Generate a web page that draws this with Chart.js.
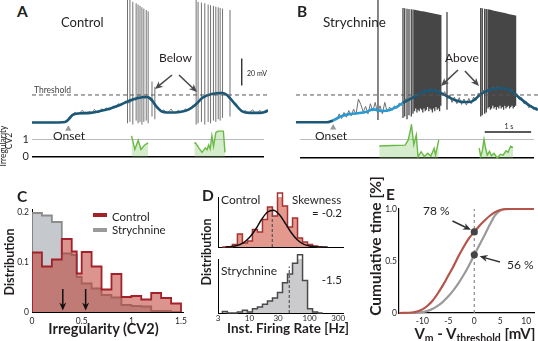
<!DOCTYPE html>
<html><head><meta charset="utf-8">
<script src="https://cdn.jsdelivr.net/npm/chart.js@4.4.1/dist/chart.umd.min.js"></script>
<style>
html,body{margin:0;padding:0;background:#fff;}
#fig{position:relative;width:538px;height:341px;overflow:hidden;font-family:Lato,'Open Sans',sans-serif;color:#231f20;}
#fig canvas{position:absolute;}
.t{position:absolute;white-space:nowrap;line-height:1;}
.r{position:absolute;white-space:nowrap;line-height:1;transform:translate(-50%,-50%) rotate(-90deg);}
.sw{position:absolute;height:4px;width:14px;}
sub{font-size:0.7em;vertical-align:-0.3em;line-height:0;}
</style></head><body><div id="fig"></div>
<script>
// ================= DATA =================
// ---- Panel A : Control membrane potential (time s, mV) ----
const threshold = -50;
const aBlueT = [0, 0.375, 0.69, 0.75, 0.85, 0.96, 1.21, 1.42, 1.63, 1.83, 2.04, 2.21, 2.38, 2.48, 2.58, 2.69, 2.83, 3.08, 3.25, 3.40, 3.56, 3.75, 3.96, 4.06, 4.23, 4.38, 4.54, 4.75, 4.85, 4.92];
const aBlueV = [-70.4, -70.4, -70, -68.5, -64.8, -63.7, -63.3, -61.9, -60, -57.4, -54.1, -52.2, -51.5, -53, -58.1, -61.9, -63, -62.6, -61.1, -57.4, -51.9, -49.3, -48.5, -50, -56.7, -62.2, -63.3, -63.3, -62.6, -61.5];
const rawDt = 0.05;
const aRawV = [-70.6,-70.2,-70.5,-70.3,-70.6,-70.2,-70.5,-70.3,-70.6,-70.1,-70.4,-70.2,-70.5,-69.9,-69.6,-68.0,-65.5,
 -64.2,-62.8,-64.5,-63.0,-61.2,-64.0,-63.6,-62.1,-63.9,-60.6,-62.8,-62.9,-60.2,-61.9,-59.4,-61.3,-60.5,-58.0,-59.6,-56.4,-58.0,-56.9,-54.4,-55.9,
 -55.5,-52.0,-54.0,-51.0,-53.0,-50.5,-52.5,-50.8,-53.5,-55.0,-57.0,-59.5,-61.0,
 -62.6,-61.0,-63.5,-62.4,-60.4,-63.3,-62.9,-61.2,-63.0,-61.9,-60.3,-61.4,
 -60.2,-58.0,-57.0,-55.0,-54.0,-51.5,-52.0,-49.5,-50.5,-48.5,-50.0,-47.8,-49.5,-47.8,-49.6,-49.0,-52.5,-53.5,-56.5,-57.5,-60.0,-61.0,
 -62.6,-61.5,-63.9,-62.2,-61.0,-63.6,-62.9,-61.4,-63.7,-61.9,-61.0];
const aSpikeT = [1.99, 2.04, 2.10, 2.17, 2.21, 2.25, 2.29, 2.33, 2.38, 2.42, 2.50, 2.56, 3.42, 3.46, 3.53, 3.60, 3.67, 3.72, 3.78, 3.83, 3.88, 3.92, 3.97, 4.125];
const aSpikePeak = [25, 22, 19, 18, 17, 16, 15, 14, 13, 12, -40, -44, 22, 19, 18.5, 18, 17, 16.5, 16, 15.5, 15, 14.5, 14, 13];
const aSpikeTrough = [-71, -70, -72, -69, -71, -70, -72, -70, -69, -71, -66, -68, -72, -71, -70, -72, -70, -71, -69, -70, -68, -69, -67, -66];
const aCvT1 = [2.11, 2.18, 2.25, 2.31, 2.39, 2.46];
const aCvV1 = [1.2, 0.42, 0.95, 0.42, 0.68, 0.80];
const aCvT2 = [3.44, 3.465, 3.535, 3.604, 3.673, 3.708, 3.744, 3.777, 3.8125, 3.848, 3.896, 3.9375, 4.056, 4.09];
const aCvV2 = [0.78, 0.80, 0.51, 0.25, 0.51, 0.40, 0.68, 0.45, 1.21, 0.60, 1.38, 1.47, 1.47, 0.25];
const aOnsetT = 0.77;
const aScaleBar = {t: 4.37, from: -43, to: -23};           // 20 mV
const aArrows = [[2.917, -35.2, 2.5625, -45.6], [3.0625, -35.2, 3.4375, -47.8]];

// ---- Panel B : Strychnine ----
const bBlueT = [0, 0.646, 0.771, 0.917, 1.083, 1.265, 1.473, 1.604, 1.8125, 1.958, 2.098, 2.229, 2.4375, 2.542, 2.646, 2.75, 2.89, 3.02, 3.167, 3.306, 3.479, 3.646, 3.75, 3.854, 4.0, 4.25, 4.458, 4.583, 4.729, 4.875, 5.0, 5.04];
const bBlueV = [-70.2, -70.2, -68.9, -66.1, -64.4, -63.6, -62.4, -60.7, -61.9, -61.1, -58.9, -55.9, -51.9, -50, -47.8, -46.8, -46.8, -48.5, -51.3, -53.7, -55.2, -55, -52.6, -49.3, -46.7, -45, -46.3, -50, -54.2, -58.1, -60.4, -61.1];
const bRawV = [-70.4,-70.0,-70.3,-70.1,-70.4,-70.0,-70.3,-70.1,-70.5,-70.0,-70.3,-70.1,-70.4,-70.0,-69.6,-69.0,-67.5,-68.5,-64.0,-67.5,
 -63.0,-66.5,-61.5,-65.5,-60.5,-64.5,-53.0,-57.0,-62.5,-58.5,-64.0,-56.5,-62.0,-55.5,-63.5,-58.0,-64.0,-55.5,-62.5,-59.0,
 -61.5,-58.0,-60.0,-56.0,-57.5,-55.0,-52.5,-53.0,-51.0,-51.5,-49.5,-50.5,-48.0,-48.5,-46.5,-47.5,-46.0,-47.5,-46.0,-47.5,
 -47.0,-50.5,-47.5,-53.5,-50.0,-55.5,-51.5,-56.5,-52.0,-57.0,-53.0,-57.5,-52.5,-56.5,-51.5,-54.0,-48.5,-50.5,-46.5,-48.0,
 -45.5,-47.0,-44.5,-46.0,-44.0,-45.5,-44.5,-46.0,-45.0,-47.0,-46.0,-49.5,-49.0,-53.5,-52.0,-56.5,-55.0,-59.5,-57.5,-61.0,-59.0,-61.5];
const bSpikeT = [1.708,
 2.229, 2.265, 2.313, 2.354, 2.402, 2.4375, 2.469, 2.494, 2.519, 2.542, 2.567, 2.592, 2.617, 2.642, 2.667, 2.692, 2.717, 2.742, 2.767, 2.792, 2.817, 2.842, 2.867, 2.892, 2.917, 2.942, 2.967, 2.992, 3.017,
 3.146,
 3.848, 3.881, 3.931, 3.965, 4.0, 4.025, 4.05, 4.075, 4.1, 4.125, 4.15, 4.175, 4.2, 4.225, 4.25, 4.275, 4.3, 4.325, 4.35, 4.375, 4.4, 4.425, 4.45, 4.475, 4.5, 4.525, 4.55, 4.575];
const bSpikePeak = [30,
 14.5, 14.3, 14.0, 13.8, 13.6, 13.4, 13.2, 13.0, 12.8, 12.6, 12.5, 12.3, 12.1, 12.0, 11.8, 11.6, 11.5, 11.3, 11.1, 11.0, 10.8, 10.6, 10.4, 10.2, 10.0, 9.8, 9.6, 9.4, 9.2,
 11.5,
 14.5, 14.2, 14.0, 13.8, 13.5, 13.3, 13.1, 12.9, 12.7, 12.5, 12.3, 12.1, 11.9, 11.7, 11.5, 11.3, 11.1, 10.9, 10.7, 10.5, 10.3, 10.1, 9.9, 9.7, 9.5, 9.3, 9.1, 8.9];
const bSpikeTrough = [-68.5,
 -67, -66, -68, -65, -66, -64, -62, -60, -63, -61, -62, -60, -61, -63, -60, -62, -61, -59, -62, -60, -61, -63, -60, -62, -59, -61, -60, -62, -58,
 -61,
 -66, -65, -64, -63, -60, -59, -61, -60, -58, -60, -59, -61, -59, -60, -58, -60, -59, -61, -58, -60, -59, -58, -60, -59, -58, -60, -59, -58];
const bCvT1 = [1.708, 2.0, 2.265, 2.333, 2.402, 2.452, 2.506, 2.542, 2.61, 2.68, 2.75, 2.82, 2.89, 2.92, 2.99];
const bCvV1 = [0.63, 0.66, 0.68, 0.95, 1.74, 0.70, 1.21, 0.07, 0.33, 0.07, 0.25, 0.10, 0.51, 0.15, 0.95];
const bCvT2 = [3.86, 3.896, 3.93, 3.965, 4.0, 4.035, 4.083, 4.125, 4.18, 4.25, 4.319, 4.375, 4.44, 4.48, 4.54, 4.59];
const bCvV2 = [0.52, 0.10, 0.40, 0.98, 0.50, 0.15, 0.35, 0.12, 0.25, 0.0, 0.20, 0.15, 0.38, 0.30, 0.62, 0.55];
const bOnsetT = 0.715;
const bTimeBar = {from: 3.98, to: 4.98, level: 1.37};          // 1 s
const bArrows = [[3.375, -31.5, 3.02, -43.3], [3.52, -32.2, 3.8125, -43.3]];

// ---- Panel C : CV2 distributions ----
const cBinWidth = 0.05;
const cControl = [0.119,0.119, 0.091,0.091, 0.105,0.105, 0.146,0.146, 0.121,0.077, 0.12,0.12, 0.091,0.091, 0.045,0.045, 0.076,0.076, 0.03,0.03, 0.032,0.032, 0.025,0.025, 0.038,0.038, 0.028,0.028, 0.017,0.017];
const cStrychnine = [0.198,0.198, 0.193,0.193, 0.18,0.18, 0.117,0.117, 0.114,0.07, 0.057,0.057, 0.047,0.047, 0.034,0.034, 0.029,0.029, 0.014,0.014, 0.012,0.012, 0.011,0.011, 0.002,0.002, 0.002,0.002, 0,0];
const cXTicks = [0, 0.5, 1, 1.5];
const cYTicks = [0, 0.1, 0.2];
const cArrowX = [0.31, 0.54];

// ---- Panel D : instantaneous firing rate (Hz, log bins) ----
const dEdgesHz = [3.55, 4.30, 5.21, 6.31, 7.64, 9.26, 11.22, 13.59, 16.47, 19.95, 24.17, 29.29, 35.48, 42.99, 52.09, 63.10, 76.45, 92.62, 112.2, 135.9, 164.7];
const dControl = [0, 0, 0.05, 0.26, 0.08, 0.12, 0.35, 0.30, 0.55, 0.80, 0.62, 1.08, 0.82, 0.40, 0.58, 0.18, 0.10, 0.05, 0.02, 0];
const dStrychnine = [0.03, 0, 0, 0.02, 0.05, 0.02, 0.08, 0.11, 0.16, 0.22, 0.28, 0.38, 0.56, 0.72, 0.92, 1.08, 0.60, 0.08, 0.02, 0];
const dFitHz = [4.0, 5.0, 6.3, 7.9, 10, 12.6, 15.8, 20.0, 25.1, 31.6, 39.8, 50.1, 63.1, 79.4, 100, 126, 158, 200];
const dFitV = [0.002, 0.009, 0.031, 0.084, 0.19, 0.35, 0.545, 0.70, 0.737, 0.646, 0.468, 0.281, 0.14, 0.057, 0.02, 0.0055, 0.0014, 0.0003];
const dMedian = {control: 24, controlH: 0.74, strychnine: 46, strychnineH: 0.86};
const dXTicks = [3, 10, 30, 100, 300];

// ---- Panel E : cumulative time vs Vm - Vthreshold ----
const eX = [-14.5, -12, -11, -10, -9, -8, -7, -6, -5, -4, -3, -2, -1, 0, 1, 2, 3, 4, 5, 6, 7, 8, 11.5];
const eControl = [0, 0.005, 0.015, 0.035, 0.07, 0.12, 0.19, 0.27, 0.36, 0.45, 0.55, 0.64, 0.72, 0.78, 0.84, 0.89, 0.935, 0.97, 0.99, 0.998, 1, 1, 1];
const eStrychnine = [0, 0, 0.003, 0.008, 0.02, 0.04, 0.07, 0.11, 0.16, 0.22, 0.29, 0.37, 0.46, 0.56, 0.655, 0.75, 0.85, 0.94, 0.985, 1, 1, 1, 1];
const eMarks = [0.78, 0.56];
const eArrows = [[-4.2, 0.885, -0.65, 0.80], [4.95, 0.49, 1.03, 0.545]];
const eXTicks = [-10, -5, 0, 5, 10];
const eYTicks = [0, 0.5, 1];

// ================= HELPERS =================
const fig = document.getElementById('fig');
Chart.defaults.font.family = 'Lato';
Chart.defaults.color = '#231f20';
const pts = (xs, ys) => xs.map((x, i) => ({x, y: ys[i]}));
const rawPts = (vs) => vs.map((v, i) => ({x: +(i * rawDt).toFixed(3), y: v}));
function spikeSeg(ts, pk, tr) {
  const d = [];
  ts.forEach((t, i) => { d.push({x: t, y: tr[i]}, {x: t, y: pk[i]}, {x: t, y: null}); });
  return d;
}
function stepData(edges, counts) {
  const n = counts.length, d = [{x: edges[0], y: 0}];
  counts.forEach((c, i) => d.push({x: edges[i], y: c}));
  d.push({x: edges[n], y: counts[n - 1]}, {x: edges[n], y: 0});
  return d;
}
const arrowPlugin = {
  id: 'arrows',
  afterDatasetsDraw(chart, args, o) {
    const list = (o && o.list) || [];
    const {ctx} = chart, xs = chart.scales.x, ys = chart.scales.y;
    ctx.save();
    list.forEach(a => {
      const x1 = xs.getPixelForValue(a[0]), y1 = ys.getPixelForValue(a[1]);
      const x2 = xs.getPixelForValue(a[2]), y2 = ys.getPixelForValue(a[3]);
      const ang = Math.atan2(y2 - y1, x2 - x1), L = o.head || 7, W = o.half || 3;
      const c = Math.cos(ang), s = Math.sin(ang);
      ctx.strokeStyle = ctx.fillStyle = o.color || '#333';
      ctx.lineWidth = o.lineWidth || 1.5;
      ctx.beginPath(); ctx.moveTo(x1, y1); ctx.lineTo(x2 - L * 0.6 * c, y2 - L * 0.6 * s); ctx.stroke();
      ctx.beginPath(); ctx.moveTo(x2, y2);
      ctx.lineTo(x2 - L * c + W * s, y2 - L * s - W * c);
      ctx.lineTo(x2 - L * 0.7 * c, y2 - L * 0.7 * s);
      ctx.lineTo(x2 - L * c - W * s, y2 - L * s + W * c);
      ctx.closePath(); ctx.fill();
    });
    ctx.restore();
  }
};
function mk(left, top, w, h, cfg) {
  const c = document.createElement('canvas');
  c.width = w; c.height = h;
  c.style.left = left + 'px'; c.style.top = top + 'px'; c.style.width = w + 'px'; c.style.height = h + 'px';
  fig.appendChild(c);
  cfg.options = Object.assign({responsive: false, animation: false, devicePixelRatio: 1, events: []}, cfg.options);
  cfg.options.plugins = Object.assign({legend: {display: false}, tooltip: {enabled: false}}, cfg.options.plugins || {});
  cfg.plugins = [arrowPlugin];
  return new Chart(c, cfg);
}
function txt(s, x, y, size, o = {}) {
  const d = document.createElement('div');
  d.className = 't'; d.innerHTML = s; d.style.fontSize = size + 'px';
  d.style.top = (y - 0.53 * size) + 'px';
  if (o.align === 'right') d.style.right = (538 - x) + 'px';
  else d.style.left = x + 'px';
  if (o.align === 'center') d.style.transform = 'translateX(-50%)';
  if (o.bold) d.style.fontWeight = '700';
  if (o.color) d.style.color = o.color;
  fig.appendChild(d);
}
function rot(s, cx, cy, size, o = {}) {
  const d = document.createElement('div');
  d.className = 'r'; d.textContent = s; d.style.fontSize = size + 'px';
  d.style.left = cx + 'px'; d.style.top = cy + 'px';
  if (o.bold) d.style.fontWeight = '700';
  fig.appendChild(d);
}
function swatch(x, y, color) {
  const d = document.createElement('div');
  d.className = 'sw'; d.style.left = x + 'px'; d.style.top = y + 'px'; d.style.background = color;
  fig.appendChild(d);
}
const line = (data, color, width, extra = {}) => Object.assign({data, borderColor: color, borderWidth: width, pointRadius: 0, fill: false}, extra);
const hidden = (min, max, type = 'linear') => ({type, min, max, display: false});
const noGrid = {display: false, drawTicks: false};
const cvY = (w, labels) => ({
  min: -0.21, max: 1.79,
  afterFit: s => { s.width = w; },
  afterBuildTicks: s => { s.ticks = [{value: 0}, {value: 1}]; },
  ticks: {display: labels, font: {size: 11}, color: '#231f20', padding: 3},
  grid: {drawTicks: false, color: c => c.tick.value === 0 ? '#000' : '#bcbcbc', lineWidth: c => c.tick.value === 0 ? 1.5 : 1},
  border: {display: false}
});
const green = '#69b944', greenFill = 'rgba(125,200,95,0.32)';

// ================= PANEL A =================
const aMax = 4.917;
mk(32, 0, 236, 126, {type: 'line', data: {datasets: [
  line(spikeSeg(aSpikeT, aSpikePeak, aSpikeTrough), 'rgba(105,105,105,0.95)', 1, {order: 4}),
  line(rawPts(aRawV), '#7c7c7c', 1, {order: 3}),
  line(pts(aBlueT, aBlueV), '#1b5878', 2.6, {order: 2, cubicInterpolationMode: 'monotone'}),
  line([{x: 0, y: threshold}, {x: aMax, y: threshold}], '#555', 1, {borderDash: [4, 3], order: 1}),
  line([{x: aScaleBar.t, y: aScaleBar.from}, {x: aScaleBar.t, y: aScaleBar.to}], '#222', 1.3, {order: 0})
]}, options: {scales: {x: hidden(0, aMax), y: hidden(-73, 20.4)},
  plugins: {arrows: {list: aArrows, color: '#4a4a4a', head: 8, half: 3.5, lineWidth: 1.6}}}});
mk(0, 116, 268, 54, {type: 'line', data: {datasets: [
  line(pts(aCvT1, aCvV1), green, 1.4, {fill: 'origin', backgroundColor: greenFill}),
  line(pts(aCvT2, aCvV2), green, 1.4, {fill: 'origin', backgroundColor: greenFill}),
  {data: [{x: aOnsetT, y: 1.6}], showLine: false, pointStyle: 'triangle', pointRadius: 3.6, pointBackgroundColor: '#9a9a9a', pointBorderWidth: 0}
]}, options: {layout: {padding: {top: 8, bottom: 8}}, scales: {x: hidden(0, aMax), y: cvY(32, true)}}});

// ================= PANEL B =================
const bMax = 5.042;
mk(296, 0, 242, 126, {type: 'line', data: {datasets: [
  line(spikeSeg(bSpikeT, bSpikePeak, bSpikeTrough), 'rgba(60,60,60,0.95)', 1.3, {order: 4}),
  line(rawPts(bRawV), '#707070', 1, {order: 3}),
  line(pts(bBlueT, bBlueV), '#1b5878', 2.6, {order: 2, cubicInterpolationMode: 'monotone',
    segment: {borderColor: c => (c.p0.parsed.x >= 0.7 && c.p0.parsed.x < 2.15) ? '#2a9ad2' : '#1b5878'}}),
  line([{x: 0, y: threshold}, {x: bMax, y: threshold}], '#555', 1, {borderDash: [4, 3], order: 1})
]}, options: {scales: {x: hidden(0, bMax), y: hidden(-73, 20.4)},
  plugins: {arrows: {list: bArrows, color: '#4a4a4a', head: 8, half: 3.5, lineWidth: 1.6}}}});
mk(296, 116, 242, 54, {type: 'line', data: {datasets: [
  line(pts(bCvT1, bCvV1), green, 1.4, {fill: 'origin', backgroundColor: greenFill}),
  line(pts(bCvT2, bCvV2), green, 1.4, {fill: 'origin', backgroundColor: greenFill}),
  line([{x: bTimeBar.from, y: bTimeBar.level}, {x: bTimeBar.to, y: bTimeBar.level}], '#222', 1.3),
  {data: [{x: bOnsetT, y: 1.6}], showLine: false, pointStyle: 'triangle', pointRadius: 3.6, pointBackgroundColor: '#9a9a9a', pointBorderWidth: 0}
]}, options: {layout: {padding: {top: 8, bottom: 8}}, scales: {x: hidden(0, bMax), y: cvY(0, false)}}});

// ================= PANEL C =================
const cEdges = cControl.map((_, i) => +(i * cBinWidth).toFixed(3)).concat([+(cControl.length * cBinWidth).toFixed(3)]);
const fixedTicks = arr => s => { s.ticks = arr.map(v => ({value: v})); };
mk(0, 186, 192, 155, {type: 'line', data: {datasets: [
  line(stepData(cEdges, cControl), '#a3212b', 1.8, {stepped: 'before', fill: 'origin', backgroundColor: 'rgba(190,60,50,0.55)', order: 0}),
  line(stepData(cEdges, cStrychnine), '#8c8c8c', 1.8, {stepped: 'before', fill: 'origin', backgroundColor: 'rgba(140,145,155,0.5)', order: 1})
]}, options: {layout: {padding: {top: 23.5, right: 9}},
  scales: {
    x: {type: 'linear', min: 0, max: 1.52, afterFit: s => { s.height = 29; }, afterBuildTicks: fixedTicks(cXTicks),
      ticks: {font: {size: 8.5}, padding: 4, maxRotation: 0, callback: v => String(v)}, grid: noGrid, border: {color: '#000'}},
    y: {min: 0, max: 0.205, afterFit: s => { s.width = 32; }, afterBuildTicks: fixedTicks(cYTicks),
      ticks: {font: {size: 8.5}, padding: 3, callback: v => String(v)}, grid: noGrid, border: {color: '#000'}}
  },
  plugins: {arrows: {list: cArrowX.map(x => [x, 0.046, x, 0.003]), color: '#111', head: 8, half: 3.5, lineWidth: 1.5}}}});

// ================= PANEL D =================
mk(214, 186, 140, 62, {type: 'line', data: {datasets: [
  line(pts(dFitHz, dFitV), '#111', 1.5, {cubicInterpolationMode: 'monotone', order: 0, clip: false}),
  line([{x: dMedian.control, y: 0}, {x: dMedian.control, y: dMedian.controlH}], '#555', 1.2, {borderDash: [3, 2], order: 1}),
  line(stepData(dEdgesHz, dControl), '#a83232', 1.5, {stepped: 'before', fill: 'origin', backgroundColor: 'rgba(222,135,122,0.85)', order: 2, clip: false})
]}, options: {layout: {padding: {left: 4, top: 11, right: 11, bottom: 1}},
  scales: {
    x: {type: 'logarithmic', min: 3, max: 360, afterFit: s => { s.height = 0; }, ticks: {display: false}, grid: noGrid, border: {color: '#000'}},
    y: {min: 0, max: 1, afterFit: s => { s.width = 0; }, ticks: {display: false}, grid: noGrid, border: {color: '#000'}}
  }}});
mk(214, 250, 140, 91, {type: 'line', data: {datasets: [
  line([{x: dMedian.strychnine, y: 0}, {x: dMedian.strychnine, y: dMedian.strychnineH}], '#555', 1.2, {borderDash: [3, 2], order: 0}),
  line(stepData(dEdgesHz, dStrychnine), '#4a4a4a', 1.5, {stepped: 'before', fill: 'origin', backgroundColor: 'rgba(200,200,202,0.95)', order: 1, clip: false})
]}, options: {layout: {padding: {left: 4, top: 9, right: 11}},
  scales: {
    x: {type: 'logarithmic', min: 3, max: 360, afterFit: s => { s.height = 28; }, afterBuildTicks: fixedTicks(dXTicks),
      ticks: {font: {size: 8}, padding: 1, maxRotation: 0, callback: v => String(v)}, grid: noGrid, border: {color: '#000'}},
    y: {min: 0, max: 1, afterFit: s => { s.width = 0; }, ticks: {display: false}, grid: noGrid, border: {color: '#000'}}
  }}});

// ================= PANEL E =================
mk(370, 186, 168, 155, {type: 'line', data: {datasets: [
  {data: eMarks.map(v => ({x: 0, y: v})), showLine: false, pointRadius: 3.6, pointBackgroundColor: '#444', pointBorderWidth: 0, order: 0, clip: false},
  line([{x: 0, y: 0}, {x: 0, y: 1}], '#8a8a8a', 1.2, {borderDash: [3, 3], order: 1}),
  line(pts(eX, eControl), '#b4544a', 2.2, {cubicInterpolationMode: 'monotone', order: 2, clip: false}),
  line(pts(eX, eStrychnine), '#9a9a9a', 2.2, {cubicInterpolationMode: 'monotone', order: 3, clip: false})
]}, options: {layout: {padding: {top: 23, right: 0}},
  scales: {
    x: {type: 'linear', min: -14.5, max: 11.5, afterFit: s => { s.height = 28; }, afterBuildTicks: fixedTicks(eXTicks),
      ticks: {font: {size: 8.5}, padding: 3, maxRotation: 0, callback: v => String(v)}, grid: noGrid, border: {color: '#000', width: 1.2}},
    y: {min: 0, max: 1, afterFit: s => { s.width = 29; }, afterBuildTicks: fixedTicks(eYTicks),
      ticks: {font: {size: 8.5}, padding: 2, callback: v => v === 1 ? '1.0' : String(v)}, grid: noGrid, border: {color: '#000', width: 1.2}}
  },
  plugins: {arrows: {list: eArrows, color: '#333', head: 8, half: 3.5, lineWidth: 1.5}}}});

// ================= TEXT =================
txt('A', 17, 12.5, 15.5, {bold: true});
txt('Control', 61, 23.3, 13);
txt('Below', 159, 58, 12);
txt('Threshold', 34, 90.5, 8.5, {color: '#444'});
txt('20 mV', 247, 73.3, 7);
txt('Onset', 53, 136.7, 12);
rot('Irregularity', 2.5, 146, 8.5);
rot('CV2', 9.2, 141, 8.5);
txt('B', 297, 12.5, 15.5, {bold: true});
txt('Strychnine', 323, 23, 13.5);
txt('Above', 445, 58, 12);
txt('Onset', 315, 136.7, 12);
txt('1 s', 504.5, 126.5, 7);
txt('C', 17, 197, 15.5, {bold: true});
swatch(93, 213, '#a3212b'); txt('Control', 112, 216.7, 11.5);
swatch(93, 228, '#9a9a9a'); txt('Strychnine', 112, 229.7, 11.5);
rot('Distribution', 10, 261.5, 12.5, {bold: true});
txt('Irregularity (CV2)', 103.5, 330, 14.5, {bold: true, align: 'center'});
txt('D', 202, 196, 15.5, {bold: true});
txt('Control', 221, 200, 12);
txt('Skewness', 292, 200, 11.5);
txt('= -0.2', 342, 213.3, 11.5, {align: 'right'});
txt('Strychnine', 221, 271.5, 12);
txt('-1.5', 342, 280.5, 11.5, {align: 'right'});
rot('Distribution', 207, 252, 12.5, {bold: true});
txt('Inst. Firing Rate [Hz]', 288, 329.5, 13.5, {bold: true, align: 'center'});
txt('E', 386, 195.5, 15.5, {bold: true});
txt('78 %', 423, 211.7, 12);
txt('56 %', 507, 265, 12);
rot('Cumulative time [%]', 376, 246, 15.5, {bold: true});
txt('V<sub>m</sub> - V<sub>threshold</sub> [mV]', 475, 334, 15, {bold: true, align: 'center'});
</script></body></html>
